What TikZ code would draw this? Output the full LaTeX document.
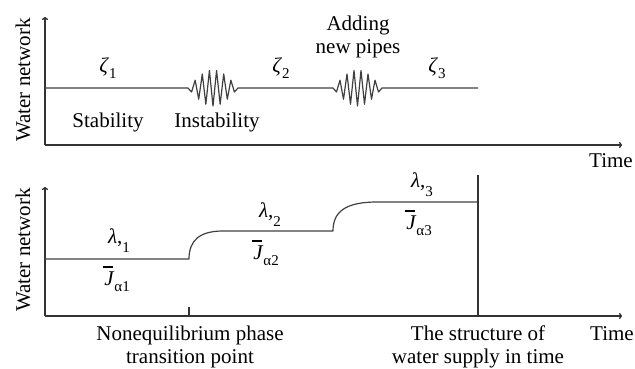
\documentclass[tikz,border=0pt]{standalone}
\usepackage{fontspec}
\setmainfont{Liberation Serif}
\usetikzlibrary{arrows.meta}
\newcommand\subsc[1]{\raisebox{-0.3em}{\fontsize{15}{15}\selectfont #1}}
\newcommand\subsl[1]{\raisebox{-0.45em}{\fontsize{15}{15}\selectfont #1}}
\newcommand\Jbar{\makebox[0pt][l]{\hspace{-0.05em}\raisebox{0.82em}{\rule{0.48em}{0.09em}}}\textit{J}}
\begin{document}
\begin{tikzpicture}[x=1pt,y=-1pt,
  ax/.style={line width=1.3pt, draw=black!80},
  crv/.style={line width=1.2pt, draw=black!75, line join=round},
  wig/.style={line width=1pt, draw=black!75, line join=round},
  tip/.style={-{To[length=3pt,width=6pt]}},
  lbl/.style={anchor=base, inner sep=0pt, font=\fontsize{21}{23}\selectfont},
  ylbl/.style={inner sep=0pt, rotate=90, font=\fontsize{21}{23}\selectfont}]
\useasboundingbox (0,0) rectangle (635,368);
% ---------- top panel ----------
\coordinate (O1) at (45,145);
\coordinate (Y1) at (45,17);
\coordinate (X1) at (622,145);
\draw[ax,tip] (O1) -- (Y1);
\draw[ax,tip] (O1) -- (X1);
\coordinate (s1) at (45,88);
\coordinate (e1) at (478,88);
\draw[crv] (s1) -- plot[domain=0:1,samples=15] ({188+50*\x},{88-18*sin(180*\x)*cos(2520*\x)})
  -- plot[domain=0:1,samples=15] ({333+49*\x},{88-18*sin(180*\x)*cos(2520*\x)}) -- (e1);
\node[lbl] (z1) at (108,72) {\textit{ζ}\subsc{1}};
\node[lbl] (z2) at (281,72) {\textit{ζ}\subsc{2}};
\node[lbl] (z3) at (437,72) {\textit{ζ}\subsc{3}};
\node[lbl] (stab) at (108,127) {Stability};
\node[lbl] (instab) at (217,127) {Instability};
\node[lbl] (add1) at (358,30) {Adding};
\node[lbl] (add2) at (358,53) {new pipes};
\node[lbl] (time1) at (611,167) {Time};
\node[ylbl] (wn1) at (23,80) {Water network};
% ---------- bottom panel ----------
\coordinate (O2) at (45,316);
\coordinate (Y2) at (45,187);
\coordinate (X2) at (622,316);
\draw[ax,tip] (O2) -- (Y2);
\draw[ax,tip] (O2) -- (X2);
\coordinate (l1) at (45,259);
\coordinate (l1e) at (189,259);
\coordinate (l2s) at (223,231);
\coordinate (l2e) at (333,231);
\coordinate (l3s) at (377,202);
\coordinate (l3e) at (478,202);
\draw[crv] (l1) -- (l1e) .. controls (189,240) and (200,231) .. (l2s) -- (l2e)
  .. controls (333,212) and (345,202) .. (l3s) -- (l3e);
\coordinate (vt) at (478,175);
\coordinate (vb) at (478,316);
\draw[ax] (vt) -- (vb);
\coordinate (tk1) at (189,307);
\coordinate (tk2) at (189,316);
\draw[ax] (tk1) -- (tk2);
\node[lbl] (lam1) at (119,243) {\textit{λ},\subsl{1}};
\node[lbl] (J1) at (117,285) {\Jbar\subsc{α1}};
\node[lbl] (lam2) at (270,217) {\textit{λ},\subsl{2}};
\node[lbl] (J2) at (266,259) {\Jbar\subsc{α2}};
\node[lbl] (lam3) at (422,187) {\textit{λ},\subsl{3}};
\node[lbl] (J3) at (419,229) {\Jbar\subsc{α3}};
\node[lbl] (ne1) at (190,340) {Nonequilibrium phase};
\node[lbl] (ne2) at (190,363) {transition point};
\node[lbl] (st1) at (478,340) {The structure of};
\node[lbl] (st2) at (478,363) {water supply in time};
\node[lbl] (time2) at (612,340) {Time};
\node[ylbl] (wn2) at (23,250) {Water network};
\end{tikzpicture}
\end{document}
